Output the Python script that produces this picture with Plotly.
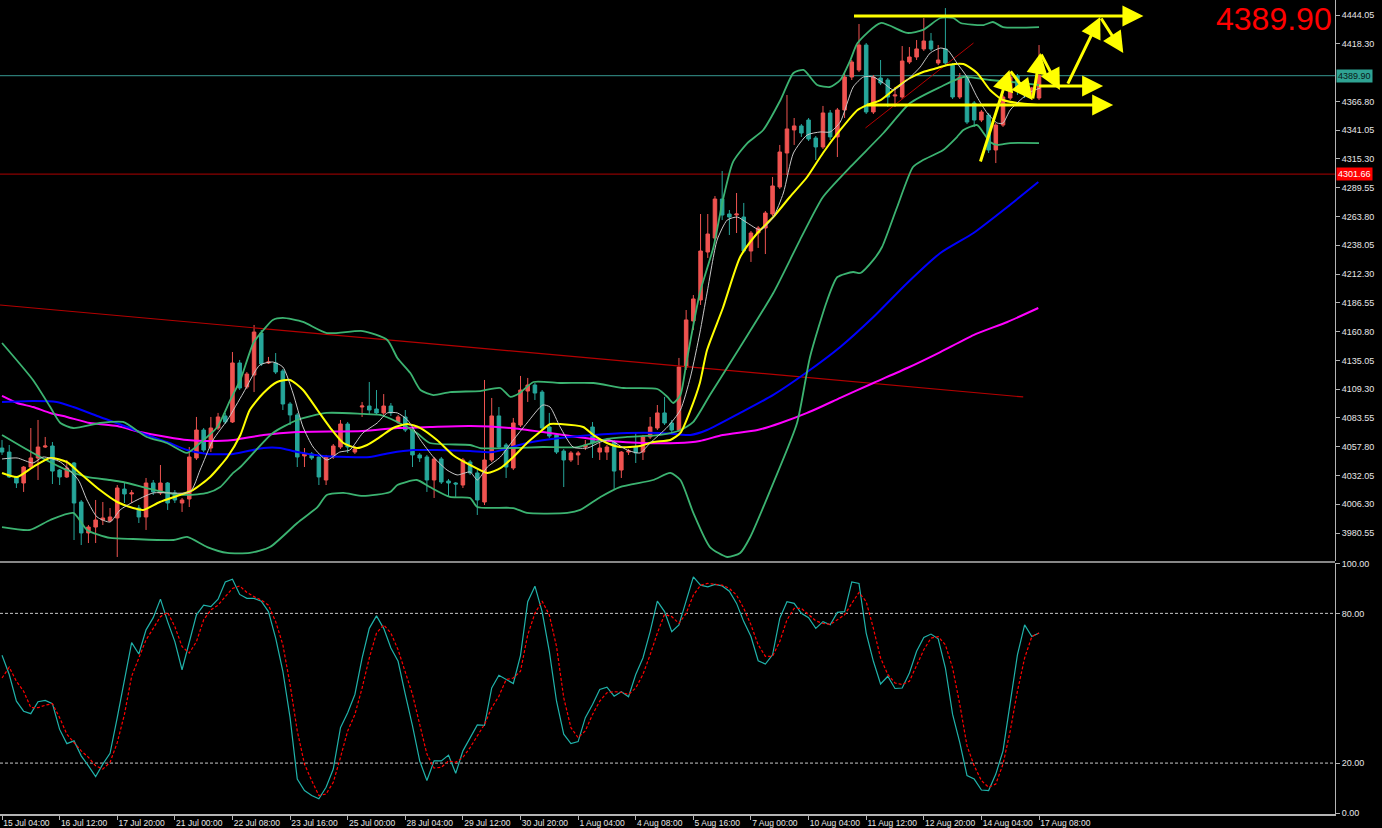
import plotly.graph_objects as go

# --- 4H candles (bar index 0 = 15 Jul 04:00) ---
opens = [
    4056.6, 4053.0, 4030.7, 4025.3, 4039.6, 4047.7, 4057.5, 4058.4, 4036.9, 4030.7,
    4043.2, 4008.3, 3980.6, 3985.9, 3992.2, 3991.3, 3994.0, 4019.9, 4015.5, 4002.9,
    3994.9, 4025.3, 4016.4, 4025.3, 4016.4, 4007.4, 4011.0, 4047.7, 4072.7, 4056.6,
    4074.5, 4085.3, 4079.9, 4132.7, 4111.2, 4121.9, 4159.5, 4132.7, 4132.7, 4125.5,
    4096.0, 4086.2, 4049.5, 4051.3, 4048.6, 4028.0, 4048.6, 4057.5, 4078.1, 4053.0,
    4093.3, 4094.2, 4091.5, 4088.0, 4094.2, 4079.9, 4084.4, 4072.7, 4050.4, 4048.6,
    4028.0, 4046.8, 4027.1, 4025.3, 4023.5, 4044.1, 4034.3, 4008.3, 4045.9, 4085.3,
    4059.3, 4038.7, 4077.2, 4107.6, 4113.0, 4106.7, 4075.4, 4068.3, 4053.9, 4045.9,
    4050.4, 4057.5, 4075.4, 4053.0, 4053.0, 4062.0, 4036.9, 4053.0, 4057.5, 4053.0,
    4066.5, 4074.5, 4088.0, 4079.0, 4072.7, 4129.1, 4170.3, 4189.1, 4232.0, 4244.5,
    4279.4, 4266.0, 4265.1, 4263.3, 4232.9, 4249.0, 4253.5, 4266.0, 4290.2, 4320.6,
    4341.2, 4344.8, 4350.1, 4334.0, 4326.0, 4356.4, 4335.0, 4359.1, 4388.6, 4394.9,
    4417.2, 4357.3, 4387.7, 4385.9, 4371.6, 4370.7, 4402.0, 4406.5, 4413.7, 4420.8,
    4401.1, 4413.7, 4399.3, 4370.7, 4388.6, 4365.3, 4350.1, 4354.6, 4323.3, 4345.6,
    4369.8, 4389.5, 4381.4, 4372.5, 4369.8,
]
highs = [
    4063.8, 4059.3, 4031.6, 4040.5, 4074.5, 4081.7, 4066.5, 4062.0, 4037.8, 4045.9,
    4044.1, 4010.1, 3987.7, 4010.1, 4008.3, 4002.9, 4023.5, 4026.2, 4019.0, 4005.6,
    4029.8, 4028.0, 4041.4, 4026.2, 4019.0, 4011.9, 4057.5, 4084.4, 4074.5, 4084.4,
    4088.0, 4088.0, 4142.5, 4135.4, 4124.6, 4166.7, 4162.2, 4138.1, 4141.6, 4127.3,
    4097.8, 4088.0, 4056.6, 4053.0, 4050.4, 4050.4, 4060.2, 4081.7, 4079.9, 4058.4,
    4097.8, 4115.7, 4108.5, 4104.9, 4096.9, 4086.2, 4090.6, 4074.5, 4052.2, 4050.4,
    4048.6, 4048.6, 4028.9, 4026.2, 4047.7, 4045.9, 4036.9, 4117.5, 4101.4, 4093.3,
    4061.1, 4083.5, 4121.1, 4119.3, 4114.8, 4108.5, 4088.0, 4070.1, 4055.7, 4053.9,
    4053.9, 4063.8, 4079.9, 4061.1, 4059.3, 4063.8, 4053.9, 4055.7, 4070.1, 4068.3,
    4084.4, 4095.1, 4102.3, 4081.7, 4137.2, 4180.1, 4193.5, 4266.0, 4266.0, 4282.1,
    4304.5, 4269.6, 4284.8, 4275.9, 4250.8, 4255.3, 4268.7, 4299.1, 4327.8, 4372.5,
    4351.9, 4346.5, 4351.9, 4335.8, 4362.7, 4359.1, 4360.9, 4392.2, 4403.8, 4436.0,
    4419.0, 4390.4, 4403.8, 4387.7, 4379.7, 4416.3, 4415.4, 4421.7, 4441.4, 4428.0,
    4417.2, 4450.3, 4401.1, 4392.2, 4390.4, 4367.1, 4359.1, 4356.4, 4347.4, 4372.5,
    4393.1, 4391.3, 4385.9, 4379.7, 4417.2,
]
lows = [
    4050.4, 4029.8, 4020.8, 4017.3, 4037.8, 4028.0, 4056.6, 4024.4, 4023.5, 4029.8,
    3974.3, 3969.8, 3971.6, 3971.6, 3987.7, 3990.4, 3959.1, 4007.4, 4007.4, 3989.5,
    3983.3, 4014.6, 4014.6, 4001.2, 4007.4, 3999.4, 4003.8, 4045.9, 4053.0, 4053.0,
    4072.7, 4078.1, 4079.0, 4108.5, 4109.4, 4106.7, 4130.0, 4131.8, 4122.8, 4090.6,
    4077.2, 4039.6, 4039.6, 4045.9, 4023.5, 4023.5, 4046.8, 4055.7, 4052.2, 4051.3,
    4084.4, 4086.2, 4086.2, 4086.2, 4085.3, 4078.1, 4070.9, 4039.6, 4044.1, 4017.3,
    4011.9, 4024.4, 4012.8, 4012.8, 4020.8, 4032.5, 3996.7, 4005.6, 4044.1, 4055.7,
    4029.8, 4036.9, 4075.4, 4097.8, 4099.6, 4072.7, 4065.6, 4051.3, 4021.7, 4044.1,
    4041.4, 4054.8, 4047.7, 4045.9, 4045.9, 4019.0, 4029.8, 4050.4, 4043.2, 4045.9,
    4064.7, 4072.7, 4077.2, 4070.9, 4070.9, 4126.4, 4162.2, 4184.6, 4226.7, 4242.7,
    4260.6, 4247.2, 4249.0, 4231.1, 4223.1, 4235.6, 4230.2, 4264.2, 4288.4, 4300.9,
    4327.8, 4335.0, 4331.3, 4314.3, 4324.2, 4332.2, 4317.0, 4351.9, 4385.9, 4393.1,
    4355.5, 4355.5, 4381.4, 4361.8, 4361.8, 4368.9, 4400.2, 4403.8, 4411.9, 4411.9,
    4399.3, 4399.3, 4368.9, 4368.9, 4346.5, 4343.9, 4348.3, 4320.6, 4311.6, 4343.9,
    4368.0, 4372.5, 4369.8, 4368.0, 4368.0,
]
closes = [
    4053.0, 4030.7, 4025.3, 4039.6, 4047.7, 4057.5, 4058.4, 4036.0, 4030.7, 4038.7,
    4007.4, 3980.6, 3985.9, 3992.2, 3994.0, 3994.9, 4020.8, 4015.5, 4016.4, 3994.9,
    4025.3, 4017.3, 4025.3, 4007.4, 4010.1, 4010.1, 4048.6, 4072.7, 4054.8, 4074.5,
    4084.4, 4079.9, 4132.7, 4110.3, 4122.8, 4160.4, 4131.8, 4133.6, 4124.6, 4096.0,
    4086.2, 4048.6, 4051.3, 4047.7, 4030.7, 4048.6, 4058.4, 4078.1, 4057.5, 4055.7,
    4094.2, 4090.6, 4088.0, 4094.2, 4088.0, 4084.4, 4072.7, 4050.4, 4047.7, 4028.0,
    4046.8, 4026.2, 4025.3, 4024.4, 4045.9, 4034.3, 4010.1, 4045.9, 4085.3, 4057.5,
    4039.6, 4079.0, 4108.5, 4113.0, 4105.8, 4074.5, 4067.4, 4053.0, 4045.9, 4052.2,
    4052.2, 4059.3, 4061.1, 4056.6, 4057.5, 4036.0, 4053.0, 4053.9, 4052.2, 4066.5,
    4075.4, 4088.0, 4079.0, 4072.7, 4129.1, 4171.2, 4190.0, 4232.9, 4248.1, 4279.4,
    4265.1, 4263.3, 4266.0, 4232.9, 4249.0, 4253.5, 4266.9, 4291.1, 4321.5, 4342.1,
    4344.8, 4338.5, 4333.1, 4326.0, 4356.4, 4335.0, 4359.1, 4388.6, 4402.0, 4417.2,
    4357.3, 4388.6, 4383.2, 4370.7, 4372.5, 4402.9, 4406.5, 4413.7, 4420.8, 4413.7,
    4403.8, 4401.1, 4370.7, 4388.6, 4348.3, 4350.1, 4357.3, 4323.3, 4345.6, 4370.7,
    4388.6, 4379.7, 4372.5, 4378.8, 4389.9,
]

# --- indicator lines at sample bars ---
bb_up_x = [0, 4.3, 6.7, 8.1, 9.9, 13.6, 16.8, 20.1, 22.9, 25.7, 27.5, 29.9, 31.7, 33.1, 34.9,
           36.3, 37.6, 39.0, 41.8, 45.1, 50.1, 53.5, 54.9, 56.7, 58.1, 59.9, 62.2, 66.4, 69.2,
           70.6, 71.9, 73.8, 77.5, 82.1, 86.3, 91.0, 92.4, 93.2, 94.2, 95.1, 96.9, 98.8, 100.1,
           101.5, 103.5, 105.7, 108.1, 109.9, 111.3, 113.2, 115.0, 116.4, 117.8, 118.8, 122.0,
           125.7, 127.9, 130.3, 132.1, 133.1, 136.3, 137.6, 139.0, 144.0]
bb_up_y = [4150.6, 4117.5, 4093.3, 4079.0, 4074.5, 4079.0, 4079.9, 4066.5, 4061.1, 4052.2, 4061.1,
           4075.4, 4099.6, 4117.5, 4150.6, 4162.2, 4171.2, 4173.0, 4169.4, 4159.5, 4161.3, 4153.3,
           4137.2, 4123.7, 4108.5, 4104.0, 4106.7, 4107.6, 4110.3, 4102.3, 4105.8, 4115.7, 4114.8,
           4114.8, 4110.3, 4109.4, 4102.3, 4096.9, 4104.0, 4135.4, 4195.3, 4236.5, 4278.5, 4312.5,
           4329.5, 4341.2, 4368.0, 4392.2, 4394.9, 4381.4, 4379.7, 4385.9, 4403.8, 4419.0, 4436.9,
           4428.0, 4430.7, 4441.4, 4441.4, 4436.9, 4435.1, 4437.8, 4433.3, 4433.3]

bb_mid_x = [0, 4.3, 9.0, 11.8, 15.0, 16.8, 20.1, 22.9, 25.7, 28.5, 30.3, 32.1, 33.1, 37.6, 41.0,
            45.1, 50.1, 52.5, 54.9, 57.6, 59.4, 65.0, 66.4, 70.6, 75.1, 79.9, 84.0, 86.8, 91.4,
            94.2, 96.0, 98.3, 102.5, 107.1, 110.8, 114.0, 117.8, 122.4, 126.1, 130.3, 133.5,
            137.2, 141.8, 144.0]
bb_mid_y = [4068.3, 4052.2, 4036.9, 4030.7, 4028.0, 4026.2, 4020.8, 4016.4, 4014.6, 4016.4, 4021.7,
            4034.3, 4039.6, 4070.0, 4081.7, 4088.0, 4087.1, 4086.2, 4079.9, 4070.0, 4061.1, 4059.3,
            4056.6, 4056.6, 4057.5, 4057.5, 4064.7, 4066.5, 4068.3, 4072.7, 4080.0, 4104.0, 4147.0,
            4195.3, 4242.7, 4281.2, 4308.1, 4338.5, 4365.3, 4379.7, 4388.6, 4385.9, 4383.2, 4381.4]

bb_low_x = [0, 3.9, 6.7, 9.9, 11.8, 15.0, 18.2, 23.8, 25.7, 28.5, 31.3, 34.4, 37.2, 41.0, 43.8,
            45.1, 47.4, 50.1, 53.9, 54.9, 57.6, 59.4, 62.2, 65.0, 66.0, 71.0, 72.9, 78.5, 80.3,
            83.1, 85.8, 90.4, 92.8, 94.2, 96.0, 98.3, 100.7, 102.5, 103.9, 107.1, 110.4, 112.2,
            114.6, 116.0, 118.2, 119.2, 121.0, 122.2, 124.3, 126.5, 127.9, 130.7, 132.6, 133.5,
            135.4, 136.3, 137.2, 138.2, 140.0, 144.0]
bb_low_y = [3985.9, 3983.3, 3992.2, 3998.5, 3983.3, 3976.1, 3975.2, 3974.3, 3977.0, 3968.0, 3962.7,
            3962.7, 3968.0, 3989.5, 4003.8, 4014.6, 4016.4, 4013.7, 4017.3, 4023.5, 4028.0, 4021.7,
            4012.8, 4011.9, 4003.8, 4002.9, 3998.5, 3998.5, 4001.2, 4012.8, 4021.7, 4028.0, 4034.3,
            4028.0, 3998.5, 3968.0, 3959.1, 3962.7, 3977.0, 4025.3, 4079.0, 4138.1, 4189.1, 4209.6,
            4214.1, 4213.2, 4224.9, 4236.5, 4272.3, 4308.1, 4314.3, 4323.3, 4334.9, 4341.2, 4345.6,
            4338.5, 4330.4, 4327.8, 4329.5, 4329.5]

ma_fast_x = [0, 2.1, 4.3, 5.7, 8.1, 10.6, 11.8, 13.2, 15.0, 16.4, 18.2, 21.0, 26.1, 27.5, 29.3,
             31.3, 33.5, 35.8, 37.6, 39.0, 40.4, 41.8, 43.2, 45.1, 46.9, 48.3, 50.1, 52.1, 53.5,
             54.9, 56.3, 58.1, 59.9, 61.8, 63.2, 65.0, 66.0, 67.4, 69.2, 71.0, 72.9, 75.1, 76.1,
             77.5, 79.3, 81.3, 83.1, 84.4, 86.8, 88.6, 90.0, 92.4, 94.2, 95.6, 96.9, 97.9, 99.3,
             100.7, 102.1, 103.5, 105.3, 107.1, 108.5, 109.9, 111.8, 113.6, 115.0, 116.4, 118.2,
             119.6, 121.0, 122.4, 123.8, 125.7, 127.5, 128.9, 130.3, 131.3, 132.6, 134.0, 135.4,
             136.8, 138.2, 139.0, 140.0, 141.4, 142.8, 144.2]
ma_fast_y = [4046.8, 4047.7, 4043.2, 4048.6, 4044.1, 4028.0, 4010.1, 3994.9, 3990.4, 4001.2, 4008.3,
             4016.4, 4017.3, 4036.9, 4063.8, 4081.7, 4105.8, 4130.9, 4133.6, 4129.1, 4105.8, 4075.4,
             4057.5, 4045.9, 4053.0, 4054.8, 4070.0, 4079.0, 4088.0, 4088.0, 4081.7, 4063.8, 4048.6,
             4036.9, 4032.5, 4035.2, 4028.0, 4039.6, 4048.6, 4063.8, 4079.0, 4095.1, 4093.3, 4075.4,
             4057.5, 4056.6, 4062.0, 4063.8, 4054.8, 4052.2, 4061.1, 4075.4, 4090.6, 4120.2, 4159.5,
             4195.3, 4242.7, 4260.6, 4263.3, 4258.0, 4251.7, 4263.3, 4284.8, 4320.6, 4336.7, 4339.4,
             4339.4, 4348.3, 4379.7, 4388.6, 4388.6, 4383.2, 4377.0, 4385.9, 4397.5, 4410.1, 4414.5,
             4412.8, 4401.1, 4388.6, 4370.7, 4356.4, 4347.4, 4347.4, 4359.1, 4368.0, 4375.2, 4378.8]

ma_yellow_x = [0, 2.1, 4.3, 6.7, 9.0, 10.8, 13.6, 16.0, 18.2, 19.6, 21.9, 24.7, 26.5, 28.9, 31.3,
               33.1, 34.4, 36.3, 38.2, 40.0, 41.8, 43.8, 45.6, 47.4, 49.3, 50.7, 52.5, 54.3, 56.3,
               58.1, 60.4, 62.6, 65.0, 67.4, 69.2, 71.0, 72.9, 74.7, 76.1, 77.5, 80.7, 82.1, 84.0,
               85.8, 88.6, 90.4, 92.8, 94.2, 95.6, 96.9, 97.9, 100.1, 102.5, 104.9, 107.1, 109.4,
               111.8, 114.0, 116.4, 118.8, 120.1, 122.0, 124.3, 126.1, 127.9, 129.9, 131.3, 133.5,
               135.4, 137.2, 139.0, 141.0, 143.8]
ma_yellow_y = [4034.3, 4030.7, 4039.6, 4047.7, 4044.1, 4034.3, 4019.0, 4008.3, 4002.9, 4001.2, 4008.3,
               4014.6, 4019.0, 4030.7, 4048.6, 4068.3, 4090.6, 4105.8, 4115.7, 4117.5, 4108.5, 4090.6,
               4074.5, 4061.1, 4056.6, 4059.3, 4066.5, 4074.5, 4078.1, 4074.5, 4063.8, 4050.4, 4041.4,
               4034.3, 4038.7, 4048.6, 4061.1, 4070.9, 4078.1, 4078.1, 4075.4, 4068.3, 4061.1, 4057.5,
               4058.4, 4062.0, 4063.8, 4070.1, 4090.6, 4114.8, 4144.3, 4181.9, 4227.5, 4249.0, 4263.3,
               4281.2, 4299.1, 4320.6, 4341.2, 4359.1, 4363.5, 4368.0, 4379.7, 4387.7, 4393.1, 4396.7,
               4399.3, 4400.2, 4392.2, 4377.0, 4368.0, 4365.3, 4363.5]

ma_blue_x = [0, 4.3, 7.6, 9.9, 13.6, 17.4, 20.1, 22.9, 25.7, 28.5, 32.1, 36.3, 38.6, 41.0, 44.6,
             47.9, 51.1, 53.9, 57.1, 60.4, 65.0, 68.2, 72.9, 77.5, 82.1, 86.8, 91.4, 95.6, 97.9,
             102.5, 107.1, 111.8, 116.4, 121.0, 125.7, 130.3, 134.9, 139.6, 143.9]
ma_blue_y = [4097.8, 4098.7, 4097.8, 4093.3, 4084.4, 4075.4, 4068.3, 4062.0, 4054.8, 4051.3, 4051.3,
             4056.6, 4056.6, 4053.0, 4049.5, 4048.6, 4048.6, 4052.2, 4054.8, 4054.8, 4053.9, 4053.0,
             4061.1, 4065.6, 4068.3, 4070.1, 4070.1, 4068.3, 4072.7, 4088.0, 4104.1, 4124.6, 4147.0,
             4173.8, 4204.3, 4231.1, 4249.0, 4272.3, 4294.6]

ma_magenta_x = [0, 2.1, 4.3, 6.7, 9.0, 12.2, 16.0, 19.2, 22.9, 25.7, 28.5, 32.1, 36.3, 41.0, 50.1,
                54.9, 59.4, 65.0, 70.6, 75.1, 79.9, 84.4, 89.0, 93.8, 96.9, 100.1, 104.9, 108.1,
                111.8, 116.4, 121.0, 125.7, 130.3, 134.9, 139.6, 143.9]
ma_magenta_y = [4103.2, 4096.9, 4093.3, 4087.9, 4084.4, 4079.0, 4076.3, 4070.9, 4066.5, 4063.8, 4062.9,
                4063.8, 4068.3, 4070.9, 4071.8, 4074.5, 4075.4, 4076.3, 4074.5, 4070.9, 4066.5, 4062.9,
                4061.1, 4061.1, 4062.9, 4068.3, 4072.7, 4079.0, 4088.0, 4101.4, 4114.8, 4128.2, 4142.5,
                4157.7, 4169.4, 4181.9]

trend_x = [-0.28, 141.8]
trend_y = [4184.6, 4102.3]
channel_x = [119.9, 134.9]
channel_y = [4343.0, 4419.0]

bid_price = 4389.90
level_price = 4301.66

# yellow hand-drawn arrows: (start bar, start price, tip bar, tip price)
arrows = [
    (118.1, 4443.2, 158.5, 4443.2),
    (119.9, 4363.5, 154.3, 4363.5),
    (143.8, 4380.5, 152.9, 4380.5),
    (135.8, 4311.6, 139.9, 4394.9),
    (139.9, 4394.9, 143.1, 4368.0),
    (143.1, 4368.0, 144.2, 4410.1),
    (144.2, 4410.1, 146.9, 4377.0),
    (147.9, 4381.4, 152.5, 4442.3),
    (152.5, 4442.3, 155.7, 4410.1),
]

# --- stochastic ---
stoch_k = [
    63.2, 55.5, 44.8, 40.8, 39.8, 44.6, 45.1, 43.8, 33.5, 27.8,
    28.9, 22.9, 18.9, 14.6, 19.6, 23.9, 38.2, 52.8, 68.3, 63.7,
    73.4, 78.3, 85.7, 76.7, 68.7, 57.4, 68.1, 79.4, 83.3, 82.7,
    85.7, 92.6, 93.7, 87.6, 86.0, 86.0, 84.9, 80.7, 70.1, 56.8,
    38.2, 13.6, 9.0, 7.0, 5.7, 10.3, 17.6, 34.2, 40.2, 47.5,
    62.1, 74.0, 79.0, 74.0, 66.1, 60.8, 47.5, 34.9, 20.9, 13.0,
    20.9, 20.9, 23.2, 15.9, 24.9, 30.2, 35.3, 35.1, 50.1, 55.2,
    53.5, 51.9, 63.2, 84.7, 90.9, 80.7, 64.8, 44.8, 31.6, 27.8,
    28.6, 38.2, 43.5, 49.5, 50.4, 46.8, 48.6, 46.6, 55.5, 62.1,
    72.7, 84.9, 80.7, 72.7, 75.4, 84.7, 94.6, 91.3, 90.6, 91.6,
    91.0, 88.9, 84.0, 76.7, 70.7, 61.0, 59.7, 63.4, 78.0, 84.7,
    84.0, 80.0, 78.3, 74.0, 76.7, 75.4, 80.4, 80.7, 92.6, 92.0,
    72.1, 60.8, 51.7, 54.8, 49.9, 50.1, 56.1, 64.8, 70.3, 71.7,
    69.8, 58.1, 39.5, 28.2, 15.0, 13.6, 9.2, 9.0, 15.6, 24.9,
    44.8, 63.4, 75.4, 70.7, 72.1,
]
stoch_d = [
    54.1, 58.4, 52.8, 48.8, 42.2, 42.2, 43.2, 43.8, 38.2, 31.6,
    28.2, 24.9, 22.3, 18.9, 17.6, 20.3, 28.2, 39.5, 54.8, 62.1,
    69.4, 74.0, 78.7, 80.4, 74.7, 66.7, 64.1, 68.7, 77.4, 81.4,
    83.3, 86.7, 90.0, 91.0, 88.4, 86.7, 85.3, 83.3, 76.7, 67.4,
    51.5, 32.9, 19.6, 13.0, 7.0, 7.6, 12.3, 22.3, 32.9, 39.5,
    50.1, 62.1, 72.1, 75.4, 72.1, 65.4, 56.8, 47.5, 35.5, 23.6,
    18.0, 18.3, 20.9, 20.3, 22.3, 26.2, 30.9, 35.5, 42.2, 46.8,
    53.5, 54.1, 56.8, 71.4, 80.0, 84.9, 79.4, 66.7, 46.2, 34.2,
    30.2, 32.9, 39.5, 44.8, 48.2, 48.6, 48.4, 47.5, 50.1, 55.5,
    63.4, 72.1, 79.6, 78.7, 76.0, 80.0, 87.3, 91.3, 92.0, 91.6,
    91.3, 90.0, 87.3, 82.0, 75.4, 67.4, 62.8, 62.8, 68.7, 77.4,
    82.0, 82.0, 79.4, 77.0, 76.0, 75.6, 77.4, 79.4, 84.0, 88.4,
    84.7, 74.0, 62.1, 55.5, 52.1, 51.5, 52.8, 59.4, 65.4, 70.1,
    70.7, 67.4, 58.1, 43.5, 26.9, 18.9, 13.0, 10.3, 11.6, 19.6,
    32.9, 48.8, 62.1, 70.7, 72.1,
]
stoch_levels = [80, 20]

price_ticks = [4444.05, 4418.30, 4366.80, 4341.05, 4315.30, 4289.55, 4263.80, 4238.05, 4212.30,
               4186.55, 4160.80, 4135.05, 4109.30, 4083.55, 4057.80, 4032.05, 4006.30, 3980.55]
stoch_ticks = [100, 80, 20, 0]
time_labels = ["15 Jul 04:00", "16 Jul 12:00", "17 Jul 20:00", "21 Jul 00:00", "22 Jul 08:00",
               "23 Jul 16:00", "25 Jul 00:00", "28 Jul 04:00", "29 Jul 12:00", "30 Jul 20:00",
               "1 Aug 04:00", "4 Aug 08:00", "5 Aug 16:00", "7 Aug 00:00", "10 Aug 04:00",
               "11 Aug 12:00", "12 Aug 20:00", "14 Aug 04:00", "17 Aug 08:00"]

n = len(closes)
assert len(opens) == len(highs) == len(lows) == n
assert len(stoch_k) == len(stoch_d) == n
bars = list(range(n))

UP = "#EF5350"
DOWN = "#26A69A"
GREEN = "#3CB371"
AXIS = "#B4B4B4"
TXT = "#E6E6E6"

fig = go.Figure()

fig.add_trace(go.Candlestick(
    x=bars, open=opens, high=highs, low=lows, close=closes,
    increasing=dict(line=dict(color=UP, width=1), fillcolor=UP),
    decreasing=dict(line=dict(color=DOWN, width=1), fillcolor=DOWN),
    whiskerwidth=0, xaxis="x", yaxis="y", showlegend=False,
))

def add_line(xs, ys, color, width, dash=None, shape="spline", axis=("x", "y")):
    assert len(xs) == len(ys)
    fig.add_trace(go.Scatter(
        x=xs, y=ys, mode="lines",
        line=dict(color=color, width=width, dash=dash, shape=shape, smoothing=0.6 if shape == "spline" else None),
        xaxis=axis[0], yaxis=axis[1], showlegend=False, hoverinfo="skip",
    ))

add_line(trend_x, trend_y, "#B40000", 1.2, shape="linear")
add_line(channel_x, channel_y, "#B40000", 1, shape="linear")
add_line(ma_magenta_x, ma_magenta_y, "#FF00FF", 2)
add_line(ma_blue_x, ma_blue_y, "#0000FF", 2)
add_line(bb_up_x, bb_up_y, GREEN, 1.8)
add_line(bb_mid_x, bb_mid_y, GREEN, 1.8)
add_line(bb_low_x, bb_low_y, GREEN, 1.8)
add_line(ma_yellow_x, ma_yellow_y, "#FFFF00", 2)
add_line(ma_fast_x, ma_fast_y, "#C8C8C8", 1)

# stochastic
add_line(bars, stoch_k, "#20B2AA", 1.2, shape="linear", axis=("x2", "y2"))
add_line(bars, stoch_d, "#FF0000", 1.2, dash="3px,2px", shape="linear", axis=("x2", "y2"))

shapes = [
    dict(type="line", xref="paper", x0=0, x1=1, yref="y", y0=bid_price, y1=bid_price,
         line=dict(color="#2B7A74", width=1.2), layer="below"),
    dict(type="line", xref="paper", x0=0, x1=1, yref="y", y0=level_price, y1=level_price,
         line=dict(color="#8B0000", width=1.2), layer="below"),
    # panel separator
    dict(type="line", xref="paper", x0=0, x1=1, yref="paper", y0=0.3096, y1=0.3096,
         line=dict(color=AXIS, width=1.5)),
]
for lv in stoch_levels:
    shapes.append(dict(type="line", xref="paper", x0=0, x1=1, yref="y2", y0=lv, y1=lv,
                       line=dict(color="#C8C8C8", width=1, dash="3px,2px"), layer="below"))

annotations = []
for x0, y0, x1, y1 in arrows:
    annotations.append(dict(
        x=x1, y=y1, ax=x0, ay=y0, xref="x", yref="y", axref="x", ayref="y",
        text="", showarrow=True, arrowhead=2, arrowsize=1.4, arrowwidth=3,
        arrowcolor="#FFFF00", standoff=0, startstandoff=0,
    ))

annotations += [
    dict(x=1, xref="paper", xanchor="left", xshift=1, y=bid_price, yref="y",
         text=f"{bid_price:.2f}", showarrow=False, bgcolor="#2FA393", borderpad=1,
         font=dict(family="Liberation Sans", size=9, color="#0A1A18")),
    dict(x=1, xref="paper", xanchor="left", xshift=1, y=level_price, yref="y",
         text=f"{level_price:.2f}", showarrow=False, bgcolor="#FF0000", borderpad=1,
         font=dict(family="Liberation Sans", size=9, color="#FFFFFF")),
    dict(x=0.9985, xref="paper", xanchor="right", y=1.0, yref="paper", yanchor="top",
         text=f"{bid_price:.2f}", showarrow=False, borderpad=0,
         font=dict(family="Liberation Sans", size=32, color="#FF0000")),
]

x_range = [-0.28, 185.1]
tick_font = dict(family="Liberation Sans", size=9, color=TXT)

fig.update_layout(
    width=1382, height=828,
    margin=dict(l=0, r=47, t=0, b=14, autoexpand=False),
    paper_bgcolor="#000000", plot_bgcolor="#000000",
    hovermode=False, showlegend=False,
    shapes=shapes, annotations=annotations,
    xaxis=dict(domain=[0, 1], anchor="y", range=x_range, showticklabels=False, showgrid=False,
               zeroline=False, showline=False, rangeslider=dict(visible=False), ticks="",
               automargin=False),
    yaxis=dict(domain=[0.3108, 1], anchor="x", side="right", range=[3955.5, 4457.5],
               tickvals=price_ticks, ticktext=[f"{v:.2f}" for v in price_ticks],
               showgrid=False, zeroline=False, showline=True, linecolor=AXIS, linewidth=1,
               ticks="outside", ticklen=4, tickcolor=AXIS, tickfont=tick_font, automargin=False),
    xaxis2=dict(domain=[0, 1], anchor="y2", matches="x", range=x_range,
                tickvals=list(range(0, n, 8)), ticktext=time_labels, tickangle=0,
                ticklabelposition="outside right", showgrid=False, zeroline=False,
                showline=True, linecolor=AXIS, linewidth=1.5, ticks="outside", ticklen=4,
                tickcolor=AXIS, tickfont=dict(family="Liberation Sans", size=8.5, color=TXT),
                automargin=False),
    yaxis2=dict(domain=[0, 0.3084], anchor="x2", side="right", range=[-0.4, 100.2],
                tickvals=stoch_ticks, ticktext=[f"{v:.2f}" for v in stoch_ticks],
                showgrid=False, zeroline=False, showline=True, linecolor=AXIS, linewidth=1,
                ticks="outside", ticklen=4, tickcolor=AXIS, tickfont=tick_font, automargin=False),
)

fig.write_html(
    "out.html",
    config={"displayModeBar": False},
    post_script="document.body.style.margin='0';document.body.style.background='#000';",
)
